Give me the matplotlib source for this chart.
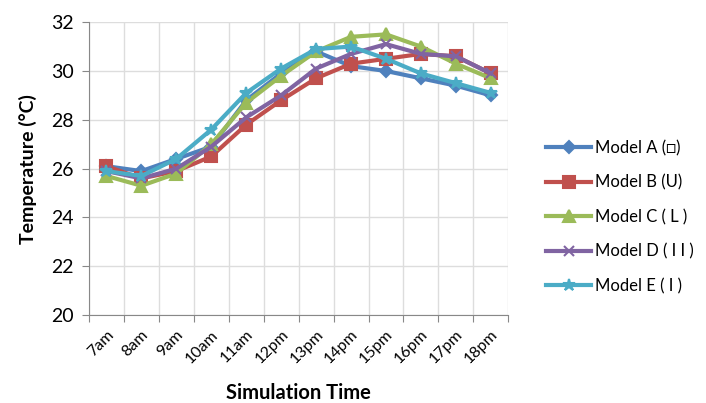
import numpy as np
import matplotlib
matplotlib.use("Agg")
import matplotlib.pyplot as plt

plt.rcParams['font.family'] = ['Lato', 'DejaVu Sans']

times = ['7am', '8am', '9am', '10am', '11am', '12pm', '13pm', '14pm', '15pm', '16pm', '17pm', '18pm']

model_a = [26.1, 25.9, 26.4, 26.9, 28.8, 29.9, 30.8, 30.2, 30.0, 29.7, 29.4, 29.0]
model_b = [26.1, 25.6, 25.9, 26.5, 27.8, 28.8, 29.7, 30.3, 30.5, 30.7, 30.6, 29.9]
model_c = [25.7, 25.3, 25.8, 27.0, 28.7, 29.8, 30.8, 31.4, 31.5, 31.0, 30.3, 29.7]
model_d = [25.9, 25.6, 26.0, 26.9, 28.1, 29.0, 30.1, 30.7, 31.1, 30.7, 30.6, 29.9]
model_e = [25.9, 25.7, 26.4, 27.6, 29.1, 30.1, 30.9, 31.0, 30.5, 29.9, 29.5, 29.1]

labels = ['Model A (\u25a1)', 'Model B (U)', 'Model C ( L )', 'Model D ( I I )', 'Model E ( I )']
colors = ['#4F81BD', '#C0504D', '#9BBB59', '#8064A2', '#4BACC6']
markers = ['D', 's', '^', 'x', '*']
sizes = [6, 9, 8, 7, 9]

fig = plt.figure(figsize=(7.06, 4.03), dpi=100)
ax = fig.add_axes([0.126, 0.218, 0.594, 0.727])

x = np.arange(len(times))
for vals, lab, c, m, s in zip([model_a, model_b, model_c, model_d, model_e], labels, colors, markers, sizes):
    ax.plot(x, vals, color=c, lw=3, marker=m, markersize=s, markeredgewidth=1.5, label=lab)

ax.set_xlim(-0.5, len(times) - 0.5)
ax.set_ylim(20, 32)
ax.set_yticks(range(20, 33, 2))
ax.set_xticks(np.arange(len(times) + 1) - 0.5)
ax.set_xticklabels([])
ax.set_xticks(x, minor=True)
ax.set_xticklabels(times, minor=True, rotation=45, ha='right', va='top', fontsize=11.5,
                   rotation_mode='anchor')
ax.tick_params(axis='x', which='minor', length=0, pad=9)
ax.tick_params(axis='x', which='major', length=5, color='#888888')
ax.tick_params(axis='y', length=5, color='#888888', labelsize=14, pad=6)
ax.grid(True, which='major', color='#dddddd', lw=1)
ax.set_axisbelow(True)
for sp in ['top', 'right']:
    ax.spines[sp].set_visible(False)
for sp in ['left', 'bottom']:
    ax.spines[sp].set_color('#888888')

ax.set_ylabel('Temperature (\u00b0C)', fontsize=14, fontweight='bold', labelpad=10)
ax.set_xlabel('Simulation Time', fontsize=14.5, fontweight='bold', labelpad=12)

ax.legend(loc='center left', bbox_to_anchor=(1.055, 0.335), frameon=False, fontsize=12,
          handlelength=2.7, handletextpad=0.2, labelspacing=1.1)

fig.savefig('out.png', dpi=100)
